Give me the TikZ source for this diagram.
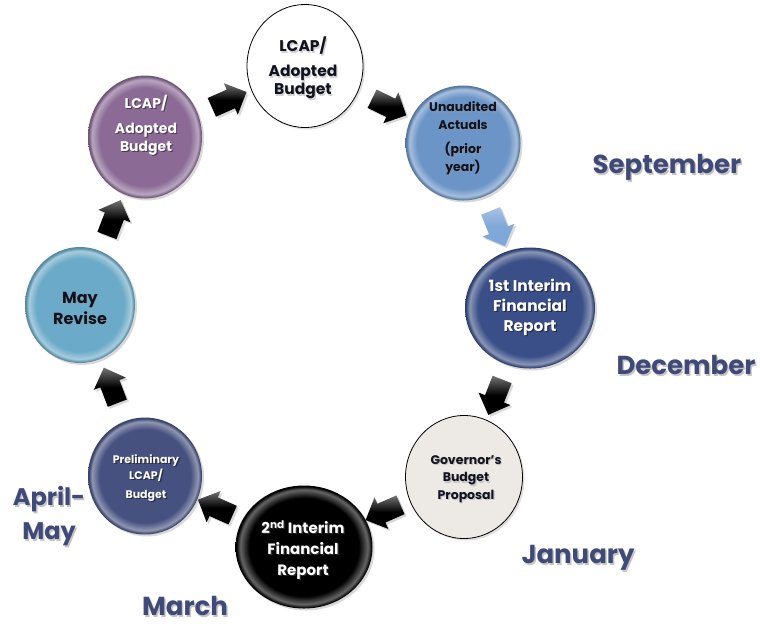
\documentclass[tikz,border=0pt]{standalone}
\usepackage{fontspec}
\setmainfont{Poppins}
\usetikzlibrary{shapes.geometric,shapes.arrows,shadows,calc}

\definecolor{lcappurple}{HTML}{8B6B96}
\definecolor{unaudblue}{HTML}{6B94C7}
\definecolor{interimnavy}{HTML}{3A4F87}
\definecolor{govcream}{HTML}{EDE9E4}
\definecolor{prelimnavy}{HTML}{465180}
\definecolor{reviseblue}{HTML}{6BAAC8}
\definecolor{monthblue}{HTML}{404A78}
\definecolor{flowblue}{HTML}{7FA8D8}
\definecolor{darktext}{HTML}{10131F}

% radial shading with a lighter bevel ring near the rim
\pgfdeclareradialshading[discbase,discrim,discedge]{discshade}{\pgfpoint{0bp}{0bp}}{%
  color(0bp)=(discbase); color(20bp)=(discbase); color(23.3bp)=(discrim);
  color(24.7bp)=(discedge); color(50bp)=(discedge)}

\tikzset{
  disc/.style={ellipse, inner sep=0pt,
    /utils/exec={\colorlet{discbase}{#1}\colorlet{discrim}{#1!60!white}\colorlet{discedge}{#1!80!black}},
    shade, shading=discshade,
    drop shadow={opacity=0.3, shadow xshift=2pt, shadow yshift=-2pt}},
  plaindisc/.style={ellipse, inner sep=0pt, fill=#1, draw=black, line width=0.8pt,
    drop shadow={opacity=0.25, shadow xshift=2pt, shadow yshift=-2pt}},
  disctext/.style={align=center, inner sep=0pt},
  discshadow/.style={disctext, text opacity=0.45},
  blockarrow/.style={single arrow, single arrow head extend=7pt,
    inner xsep=0pt, inner ysep=10pt,
    minimum height=38pt, sloped, allow upside down,
    top color=black!55, bottom color=black, middle color=black,
    drop shadow={opacity=0.3, shadow xshift=2pt, shadow yshift=-2pt}},
  month/.style={font=\fontsize{26}{28}\selectfont\bfseries, text=monthblue, inner sep=0pt, align=center},
  monthshadow/.style={month, text=black!45, text opacity=0.5},
}

% label of a disc: a soft shadow copy first, then the text itself
% #1 name, #2 position, #3 shadow colour, #4 text colour, #5 font size/leading, #6 lines
\newcommand{\disclabel}[6]{%
  \node[discshadow, text=#3, font=\fontsize#5\selectfont\bfseries] (#1-sh) at ([shift={(1.2pt,-1.4pt)}]#2) {#6};
  \node[disctext, text=#4, font=\fontsize#5\selectfont\bfseries] (#1) at (#2) {#6};}
% month label with its soft shadow; #4 extra node options
\newcommand{\monthlabel}[4][]{%
  \node[monthshadow, #1] (#2-sh) at ([shift={(1.5pt,-2pt)}]#3) {#4};
  \node[month, #1] (#2) at (#3) {#4};}

\begin{document}
\begin{tikzpicture}[x=1pt, y=-1pt]
\useasboundingbox (0,0) rectangle (760,630);

% the eight stages of the budget cycle
\node[plaindisc=white, minimum width=116pt, minimum height=123pt] (adopt) at (305,66) {};
\node[disc=lcappurple, minimum width=114pt, minimum height=123pt] (adoptprev) at (145,137) {};
\node[disc=unaudblue, minimum width=115pt, minimum height=115pt] (unaud) at (463,143) {};
\node[disc=interimnavy, minimum width=130pt, minimum height=121pt] (first) at (530,308) {};
\node[plaindisc=govcream, minimum width=117pt, minimum height=123pt] (gov) at (464,477) {};
\node[disc=black, minimum width=137pt, minimum height=123pt] (second) at (304,547) {};
\node[disc=prelimnavy, minimum width=114pt, minimum height=117pt] (prelim) at (145,476) {};
\node[disc=reviseblue, minimum width=110pt, minimum height=116pt] (revise) at (80,305) {};

% disc texts
\disclabel{adopt-t}{303,68}{black!40}{darktext}{{15.5}{18}}{LCAP/\\[7pt]Adopted\\Budget}
\disclabel{adoptprev-t}{146,125}{black}{white}{{14}{18}}{LCAP/\\[7pt]Adopted\\Budget}
\disclabel{unaud-t}{463,138}{black!40}{darktext}{{12.5}{17.5}}{Unaudited\\Actuals\\[7pt](prior\\year)}
\disclabel{first-t}{530,307}{black}{white}{{15.5}{20}}{1st Interim\\Financial\\Report}
\disclabel{gov-t}{466,479}{black!40}{darktext}{{12.5}{17.5}}{Governor's\\Budget\\Proposal}
\disclabel{second-t}{303,550}{black!60}{white}{{15}{21}}{2\textsuperscript{nd} Interim\\Financial\\Report}
\disclabel{prelim-t}{146,478}{black}{white}{{11}{16}}{Preliminary\\LCAP/\\[3pt]Budget}
\disclabel{revise-t}{80,308}{black!40}{darktext}{{16}{21}}{May\\Revise}

% block arrows between consecutive stages
\path (adoptprev) -- node[blockarrow] (ar1) {} (adopt);
\path (adopt) -- node[blockarrow] (ar2) {} (unaud);
\path (unaud) -- node[blockarrow, top color=flowblue!70!white, bottom color=flowblue, middle color=flowblue] (ar3) {} (first);
\path (first) -- node[blockarrow] (ar4) {} (gov);
\path (gov) -- node[blockarrow] (ar5) {} (second);
\path (second) -- node[blockarrow] (ar6) {} (prelim);
\path (prelim) -- node[blockarrow] (ar7) {} (revise);
\path (revise) -- node[blockarrow] (ar8) {} (adoptprev);

% months
\monthlabel{sep}{667,167}{September}
\monthlabel{dec}{686,365}{December}
\monthlabel{jan}{578,558}{January}
\monthlabel{mar}{185,606}{March}
\monthlabel[font=\fontsize{24}{34}\selectfont\bfseries]{apr}{49,516}{April-\\May}
\end{tikzpicture}
\end{document}
